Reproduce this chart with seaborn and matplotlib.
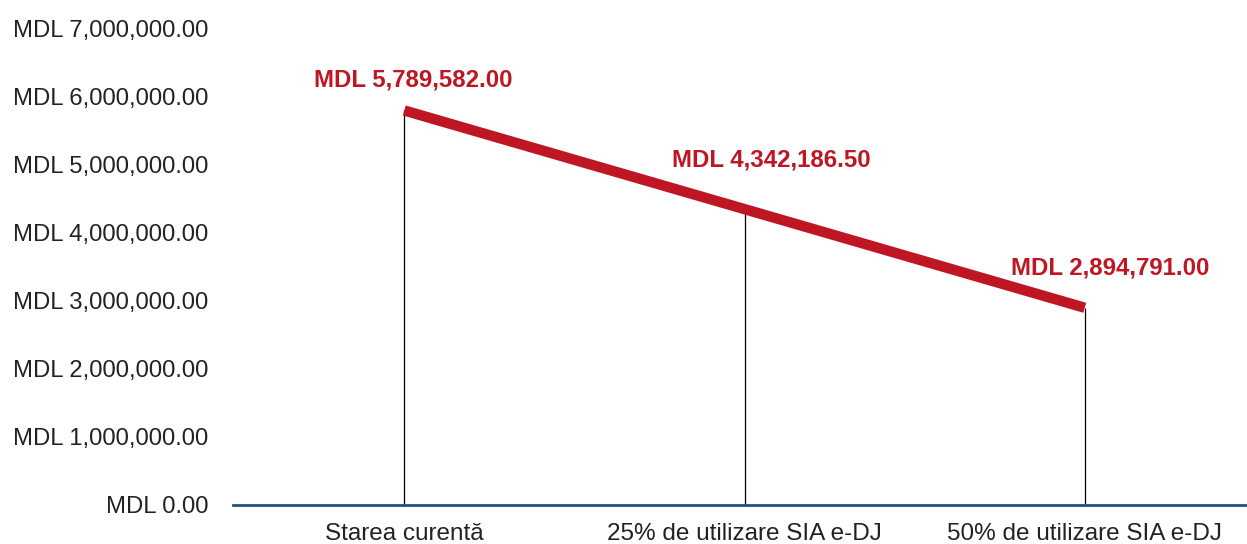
import matplotlib
matplotlib.use("Agg")
import matplotlib.pyplot as plt
import seaborn as sns
import pandas as pd

categories = ["Starea curentă", "25% de utilizare SIA e-DJ", "50% de utilizare SIA e-DJ"]
values = [5789582.00, 4342186.50, 2894791.00]
y_ticks = [0, 1000000, 2000000, 3000000, 4000000, 5000000, 6000000, 7000000]
label_offsets_px = [(9, 30), (27, 49), (25, 40)]

sns.set_theme(style="white")
plt.rcParams['font.family'] = ['Liberation Sans', 'DejaVu Sans']

RED = "#BE1622"
BLUE = "#1F5181"

df = pd.DataFrame({"cat": categories, "val": values})

fig = plt.figure(figsize=(12.47, 5.44), dpi=100)
ax = fig.add_axes([0.187, 0.0717, 0.813, 0.8768])

ax.vlines(range(len(values)), 0, values, color="black", linewidth=0.9, zorder=1)
sns.lineplot(data=df, x="cat", y="val", ax=ax, color=RED, linewidth=7.5, sort=False,
             solid_capstyle="butt", zorder=3)

for i, v in enumerate(values):
    dx, dy = label_offsets_px[i]
    ax.annotate(f"MDL {v:,.2f}", xy=(i, v), xytext=(dx, dy), textcoords="offset pixels",
                ha="center", va="center", color=RED, fontsize=17.3, fontweight="bold")

ax.set_ylim(0, 7000000)
ax.set_xlim(-0.503, 2.477)
ax.set_yticks(y_ticks)
ax.set_yticklabels([f"MDL {t:,.2f}" for t in y_ticks])
ax.set_xlabel("")
ax.set_ylabel("")
ax.tick_params(axis="y", length=0, labelsize=17.2, colors="#222222", pad=18)
ax.tick_params(axis="x", length=0, labelsize=17.5, colors="#222222", pad=13)

for s in ["top", "right", "left"]:
    ax.spines[s].set_visible(False)
ax.spines["bottom"].set_color(BLUE)
ax.spines["bottom"].set_linewidth(2)
ax.grid(False)

fig.savefig("out.png", dpi=100)
